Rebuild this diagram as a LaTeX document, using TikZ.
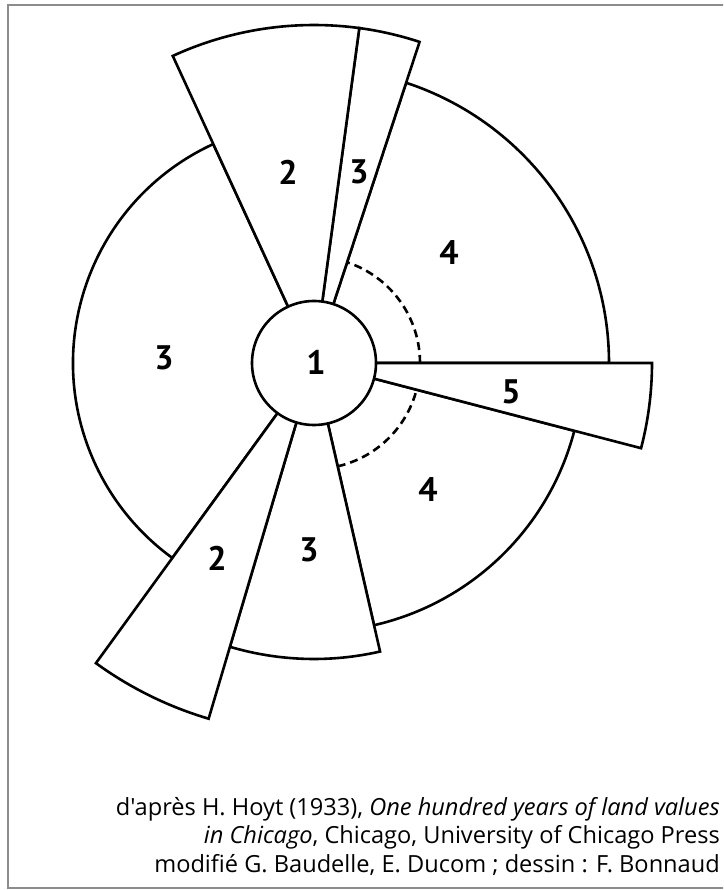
\documentclass[tikz,border=0pt]{standalone}
\usepackage{fontspec}
\setmainfont{PT Sans}
\newfontfamily\capfont{Open Sans}
\begin{document}
\begin{tikzpicture}[x=1pt,y=1pt,
  sector/.style={draw=black,fill=white,line width=2.6pt,line join=miter},
  ring/.style={draw=black,line width=2.6pt,dash pattern=on 8pt off 5pt},
  num/.style={font=\fontsize{34}{34}\selectfont\bfseries,inner sep=0pt},
  frame/.style={draw=black!45,line width=2.5pt},
  captext/.style={font=\capfont\fontsize{23.6}{28.5}\selectfont,align=right,anchor=base east,inner sep=0pt}]
\useasboundingbox (-314,-527) rectangle (409,363);
\clip (-314,-527) rectangle (409,363);
\fill[white] (-314,-527) rectangle (409,363);
\draw[frame] (-306,358) rectangle (430,-525);
\newcommand{\sect}[4][]{\draw[sector,#1] (0,0) -- (#2:#4) arc[start angle=#2, end angle=#3, radius=#4] -- cycle;}
% sectors
\sect{114.7}{234}{241}
\sect{0}{71.8}{295}
\sect{282.9}{345.4}{269}
\sect{71.8}{82.3}{338}
\sect{82.3}{114.7}{338}
\sect{345.4}{360}{338}
\sect{253.5}{282.9}{296}
\sect{234}{253.5}{371}
% dashed arcs
\draw[ring] (0:106) arc[start angle=0, end angle=71.8, radius=106];
\draw[ring] (282.9:106) arc[start angle=282.9, end angle=345.4, radius=106];
% centre
\node[circle,draw=black,fill=white,line width=2.6pt,minimum size=124pt,inner sep=0pt] (cbd) at (0,0) {};
% labels
\node[num] (l1) at (2,1) {1};
\node[num] (l2a) at (-26,191) {2};
\node[num] (l3a) at (45,191) {3};
\node[num] (l4a) at (135,110) {4};
\node[num] (l3b) at (-150,5) {3};
\node[num] (l5) at (197,-29) {5};
\node[num] (l4b) at (114,-127) {4};
\node[num] (l2b) at (-97,-195) {2};
\node[num] (l3c) at (-5,-187) {3};
% caption
\node[captext] (c1) at (406,-452) {d'après H. Hoyt (1933), \textit{One hundred years of land values}};
\node[captext] (c2) at (406,-480) {\textit{in Chicago}, Chicago, University of Chicago Press};
\node[captext] (c3) at (406,-509) {modifié G. Baudelle, E. Ducom ; dessin : F. Bonnaud};
\end{tikzpicture}
\end{document}
